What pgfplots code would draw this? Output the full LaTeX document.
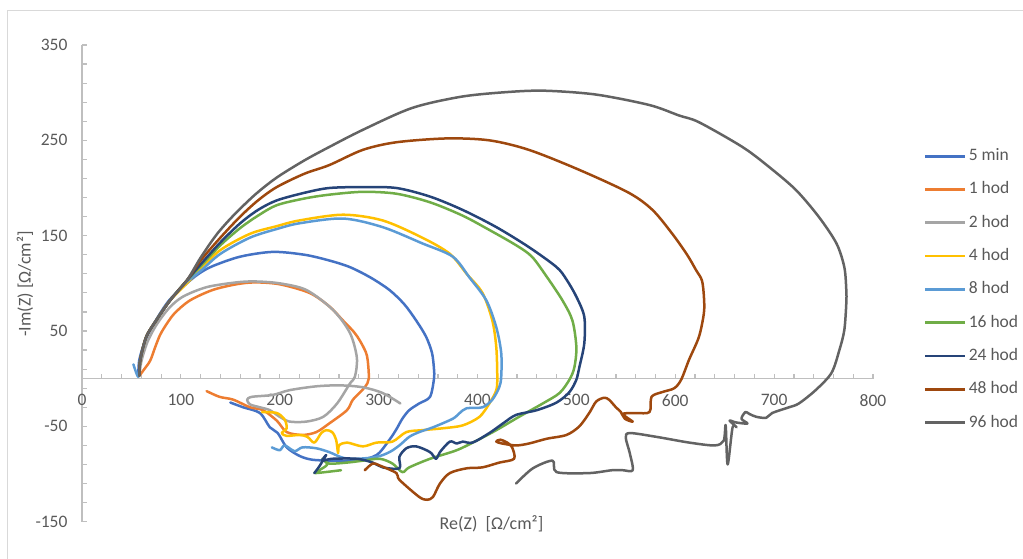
\documentclass[border=0pt]{standalone}
\usepackage{fontspec}
\setmainfont{Carlito}
\usepackage{pgfplots}
\pgfplotsset{compat=1.18}
\definecolor{cA}{HTML}{4472C4}
\definecolor{cB}{HTML}{ED7D31}
\definecolor{cC}{HTML}{A5A5A5}
\definecolor{cD}{HTML}{FFC000}
\definecolor{cE}{HTML}{5B9BD5}
\definecolor{cF}{HTML}{70AD47}
\definecolor{cG}{HTML}{264478}
\definecolor{cH}{HTML}{9E480E}
\definecolor{cI}{HTML}{636363}
\definecolor{axisgray}{HTML}{BFBFBF}
\definecolor{labelgray}{HTML}{595959}
\definecolor{framegray}{HTML}{D9D9D9}
\begin{document}
\begin{tikzpicture}[x=1pt,y=1pt]
\path[use as bounding box] (0,0) rectangle (1023,-559);
\draw[framegray, line width=1pt] (7,-11) rectangle (1040,-600);
\begin{axis}[
  at={(82pt,-521.7pt)}, anchor=south west,
  scale only axis, width=791pt, height=476.7pt,
  xmin=0, xmax=800, ymin=-150, ymax=350,
  axis x line=middle, axis y line=left,
  axis line style={-, draw=axisgray, line width=1.3pt},
  xtick={0,100,...,800}, xticklabels={0,100,200,300,400,500,600,700,800},
  minor xtick={20,40,...,780},
  ytick={-150,-50,50,150,250,350}, yticklabels={-150,-50,50,150,250,350},
  minor ytick={-130,-110,...,330},
  tick align=inside,
  major tick length=5pt, minor tick length=5pt,
  every tick/.style={draw=axisgray, line width=1.2pt},
  tick label style={font=\fontsize{17.5}{21}\selectfont, text=labelgray},
  xticklabel style={yshift=-12pt},
  yticklabel style={xshift=-11pt},
  hide obscured x ticks=false, hide obscured y ticks=false,
  xlabel={Re(Z)\ \ [Ω/cm²]}, ylabel={-Im(Z) [Ω/cm²]},
  label style={font=\fontsize{18}{22}\selectfont, text=labelgray},
  xlabel style={at={(axis description cs:0.5177,-0.005)}, anchor=center},
  ylabel style={at={(axis description cs:-0.072,0.4986)}, anchor=center},
  legend style={draw=none, fill=none, at={(1.0605,0.7913)}, anchor=north west,
    font=\fontsize{17.5}{21}\selectfont, text=labelgray, row sep=14.3pt,
    nodes={inner sep=2pt, text height=12pt, text depth=3pt}},
  legend cell align=left,
  legend image code/.code={\draw[#1, line width=2.8pt, line cap=butt] (0pt,0pt) -- (40pt,0pt);},
  every axis plot/.append style={line width=2.5pt, line join=round, line cap=round, no markers, smooth, tension=0.5},
]
% 5 min
\addplot[cA] coordinates {(57,4)(58,20)(64,40)(74,60)(88,82)(106,100)(118,110)(132,118)(160,128)(193,133)(225,130)(250,124)(271,117)(292,106)(311,93)(326,78)(338,61)(348,44)(354,27)(356,10)(356,0)(352,-19)(341,-26)(331,-33)(324,-42)(318,-53)(311,-64)(298,-80)(278,-86)(255,-86)(233,-85)(220,-81)(207,-72)(198,-57)(190,-51)(180,-36)(163,-30)(150,-25)};
\addlegendentry{5 min}
% 1 hod
\addplot[cB] coordinates {(58,3)(63,10)(69,19)(74,33)(79,46)(86,58)(94,69)(109,82)(132,93)(156,99)(175,101)(200,99)(230,90)(250,76)(264,61)(275,49)(281,40)(287,28)(289,19)(290,0)(286,-9)(274,-22)(268,-33)(250,-47)(237,-56)(223,-59)(207,-56)(197,-44)(183,-33)(170,-30)(153,-22)(139,-19)(126,-13)};
\addlegendentry{1 hod}
% 2 hod
\addplot[cC] coordinates {(58,3)(60,18)(66,38)(75,56)(88,74)(102,86)(126,96)(156,101)(175,102)(200,100)(227,93)(254,72)(271,48)(278,22)(276,2)(271,-5)(258,-26)(244,-40)(227,-45)(210,-45)(200,-40)(190,-33)(180,-30)(170,-27)(167,-22)(172,-19)(193,-17)(210,-12)(237,-8)(261,-7)(284,-9)(304,-15)(322,-26)};
\addlegendentry{2 hod}
% 4 hod
\addplot[cD] coordinates {(58,3)(59,20)(65,44)(75,61)(89,82)(106,100)(120,115)(140,135)(170,152)(197,160)(220,166)(264,172)(304,166)(344,148)(372,131)(389,110)(405,90)(415,61)(419,33)(420,2)(419,-12)(412,-26)(402,-40)(385,-49)(365,-52)(344,-54)(328,-56)(314,-66)(298,-67)(284,-71)(268,-67)(260,-70)(259,-78)(257,-64)(253,-56)(247,-54)(242,-57)(235,-67)(228,-61)(220,-59)(207,-60)(202,-57)(207,-52)(205,-43)(197,-36)(182,-35)};
\addlegendentry{4 hod}
% 8 hod
\addplot[cE] coordinates {(52,15)(57,2)(59,20)(65,44)(75,61)(89,82)(104,100)(120,113)(140,131)(170,148)(197,157)(220,163)(264,168)(304,159)(344,142)(375,128)(392,106)(409,82)(419,54)(424,27)(424,2)(422,-9)(415,-22)(405,-30)(389,-31)(382,-36)(375,-42)(355,-51)(341,-56)(331,-61)(321,-70)(311,-77)(298,-82)(278,-84)(264,-83)(250,-77)(237,-73)(223,-72)(215,-76)(205,-70)(200,-75)(192,-72)};
\addlegendentry{8 hod}
% 16 hod
\addplot[cF] coordinates {(58,3)(59,20)(65,44)(75,61)(89,82)(106,103)(120,118)(140,140)(160,158)(178,171)(197,182)(225,189)(250,193)(284,196)(318,194)(352,185)(385,171)(412,156)(439,140)(455,128)(470,107)(486,82)(496,61)(500,33)(498,12)(493,-1)(483,-15)(466,-26)(442,-40)(419,-54)(399,-65)(379,-75)(352,-84)(331,-93)(324,-98)(314,-89)(301,-84)(284,-86)(268,-88)(250,-89)(243,-84)(248,-90)(240,-96)(236,-99)(262,-96)};
\addlegendentry{16 hod}
% 24 hod
\addplot[cG] coordinates {(58,3)(59,20)(65,44)(75,61)(89,82)(106,103)(120,120)(140,143)(160,163)(178,177)(197,187)(225,195)(250,200)(284,201)(318,200)(352,191)(385,177)(419,159)(452,138)(480,117)(490,104)(500,86)(508,65)(508,37)(503,12)(500,-1)(493,-14)(480,-25)(460,-33)(439,-38)(427,-46)(412,-57)(395,-67)(385,-66)(379,-68)(372,-66)(362,-77)(358,-84)(352,-77)(338,-71)(328,-73)(321,-82)(321,-94)(304,-93)(294,-88)(278,-84)(253,-84)(243,-86)(247,-80)(240,-92)(235,-99)};
\addlegendentry{24 hod}
% 48 hod
\addplot[cH] coordinates {(58,3)(59,20)(65,44)(75,61)(89,82)(106,103)(120,124)(140,148)(160,170)(178,187)(197,201)(225,215)(250,224)(284,240)(318,248)(369,252)(412,250)(452,240)(503,219)(553,195)(577,177)(597,152)(612,130)(621,114)(627,103)(629,86)(629,69)(624,44)(614,20)(606,-1)(599,-10)(587,-14)(576,-19)(574,-35)(560,-36)(547,-37)(557,-45)(549,-42)(545,-35)(540,-30)(533,-22)(528,-20)(520,-24)(513,-36)(503,-50)(490,-59)(470,-63)(452,-68)(439,-70)(425,-68)(419,-66)(423,-64)(430,-67)(435,-72)(437,-84)(422,-88)(405,-93)(389,-94)(372,-99)(362,-110)(355,-124)(349,-127)(341,-124)(321,-106)(318,-99)(301,-91)(294,-89)(286,-96)};
\addlegendentry{48 hod}
% 96 hod
\addplot[cI] coordinates {(58,3)(59,20)(65,44)(75,61)(89,82)(106,103)(120,127)(136,151)(153,171)(175,193)(197,211)(225,229)(250,243)(284,261)(334,284)(385,296)(435,301)(470,302)(520,298)(574,287)(604,276)(624,269)(668,243)(695,222)(722,198)(745,170)(763,142)(771,117)(773,93)(773,79)(771,51)(766,30)(758,6)(742,-12)(725,-26)(715,-30)(698,-36)(692,-41)(682,-40)(675,-37)(671,-35)(667,-42)(673,-47)(662,-46)(655,-44)(662,-51)(658,-51)(653,-90)(651,-49)(649,-65)(640,-70)(614,-67)(581,-61)(554,-57)(550,-62)(554,-78)(557,-96)(547,-96)(536,-96)(513,-99)(480,-98)(476,-86)(456,-94)(439,-110)};
\addlegendentry{96 hod}
\end{axis}
\end{tikzpicture}
\end{document}
